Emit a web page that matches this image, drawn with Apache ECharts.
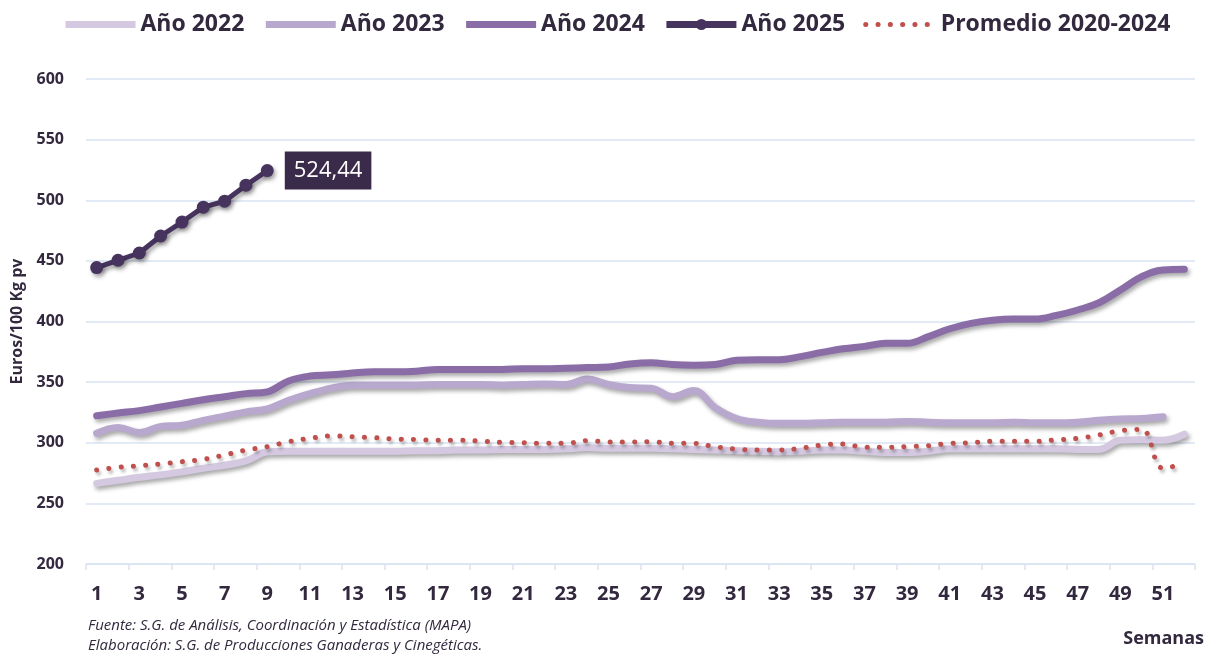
<!DOCTYPE html>
<html>
<head>
<meta charset="utf-8">
<script src="https://cdn.jsdelivr.net/npm/echarts@6/dist/echarts.min.js"></script>
<style>
  html, body { margin: 0; padding: 0; background: #fff; }
  #chart { width: 1208px; height: 660px; }
</style>
</head>
<body>
<div id="chart"></div>
<script>
const weeks = ["1","2","3","4","5","6","7","8","9","10","11","12","13","14","15","16","17","18","19","20",
  "21","22","23","24","25","26","27","28","29","30","31","32","33","34","35","36","37","38","39","40",
  "41","42","43","44","45","46","47","48","49","50","51","52"];

const y2022 = [266.5, 269, 271.5, 273.5, 276, 279, 281.5, 285, 292.5, 293, 293, 293, 293, 293, 293, 293.5,
  293.5, 294, 294, 294.5, 294.5, 294.5, 295, 296, 295.5, 295.5, 295.5, 295, 294.5, 294, 293.5, 293, 292.5,
  293, 294, 294, 293, 292, 292, 293, 295, 295, 295, 295, 295, 295, 294.5, 294.5, 302, 302.5, 302, 307];

const y2023 = [307.8, 312.5, 308.5, 313.5, 314.5, 318.5, 322, 325.5, 328, 335, 340.5, 345, 347.5, 347.5,
  347.5, 347.5, 348, 348, 348, 347.5, 348, 348.5, 348, 352.5, 348, 345.5, 345, 338, 343, 329, 320, 317, 316,
  316, 316.5, 317, 317, 317, 317.5, 317, 316.5, 316.5, 316.5, 317, 316.5, 316.5, 317, 318.5, 319.5, 320, 321.5];

const y2024 = [322.3, 324.5, 326.5, 329.5, 332.5, 335.5, 338, 340.5, 342, 351, 355, 356, 357.5, 358.5,
  358.5, 359, 360.5, 360.5, 360.5, 360.5, 361, 361, 361.5, 362, 362.5, 365, 366, 364.5, 364, 364.5, 368,
  368.5, 368.5, 371, 374.5, 377.5, 379.5, 382, 382, 387.5, 394, 398.5, 401, 402, 402, 405, 409.5, 415.5,
  426, 437, 442.5, 443];

const y2025 = [444.5, 450.5, 456.5, 470.5, 482, 494.3, 499.2, 512.4, 524.44];

const avg = [277.5, 279.7, 281, 282.5, 284.4, 286.3, 289.9, 294, 296.7, 300.9, 303.6, 305.6, 305, 304.2,
  303.1, 302.7, 302, 302, 301.4, 300.3, 300, 299.5, 299.5, 301.7, 300.6, 300.6, 300.8, 299.5, 299.5, 296.7,
  294.8, 294, 294, 295.4, 298.1, 299, 296.2, 296.2, 296.8, 297.6, 299.5, 300, 301.2, 301.2, 301.2, 302.3,
  303.6, 306.4, 310, 311, 279, 283];

const lastLabel = "524,44";

const textColor = "#33293f";
const gridColor = "#d9e4f2";
const font = "Open Sans";

const shadow = {
  shadowColor: "rgba(0, 0, 0, 0.35)",
  shadowBlur: 4,
  shadowOffsetX: 2,
  shadowOffsetY: 3
};

// only the last point of 2025 gets the value box
const data2025 = y2025.map((v, i) => {
  if (i !== y2025.length - 1) return v;
  return {
    value: v,
    label: {
      show: true,
      position: "right",
      distance: 11,
      formatter: lastLabel,
      backgroundColor: "#3b2b4b",
      color: "#ffffff",
      fontSize: 22,
      fontFamily: font,
      padding: [8, 9, 8, 9]
    }
  };
});

const hideDot = { opacity: 0 };

const chart = echarts.init(document.getElementById("chart"));
const option = {
  animation: false,
  textStyle: { fontFamily: font },
  legend: {
    top: 8,
    left: 57,
    itemWidth: 70,
    itemHeight: 14,
    itemGap: 18,
    lineStyle: { width: "inherit", cap: "butt" },
    textStyle: {
      fontSize: 23,
      fontWeight: "bold",
      color: textColor,
      fontFamily: font
    },
    data: [
      { name: "Año 2022", itemStyle: hideDot },
      { name: "Año 2023", itemStyle: hideDot },
      { name: "Año 2024", itemStyle: hideDot },
      { name: "Año 2025", lineStyle: { width: 7 } },
      { name: "Promedio 2020-2024", itemStyle: hideDot, lineStyle: { cap: "round", width: 5 } }
    ]
  },
  grid: {
    left: 86,
    right: 13,
    top: 79,
    bottom: 96
  },
  xAxis: {
    type: "category",
    data: weeks,
    boundaryGap: true,
    axisLine: { lineStyle: { color: gridColor, width: 1.5 } },
    axisTick: {
      show: true,
      length: 6,
      lineStyle: { color: gridColor, width: 1.5 }
    },
    axisLabel: {
      interval: 1,
      margin: 20,
      fontSize: 20,
      fontWeight: "bold",
      color: textColor,
      fontFamily: font
    },
    splitLine: { show: false }
  },
  yAxis: {
    type: "value",
    min: 200,
    max: 600,
    interval: 50,
    name: "Euros/100 Kg pv",
    nameLocation: "middle",
    nameGap: 60,
    nameTextStyle: {
      fontSize: 16,
      fontWeight: "bold",
      color: textColor,
      fontFamily: font
    },
    axisLine: { show: false },
    axisTick: { show: false },
    axisLabel: {
      margin: 22,
      fontSize: 16,
      fontWeight: "bold",
      color: textColor,
      fontFamily: font
    },
    splitLine: { lineStyle: { color: gridColor, width: 1.5 } }
  },
  series: [
    {
      name: "Año 2022",
      type: "line",
      data: y2022,
      smooth: 0.4,
      showSymbol: false,
      symbol: "none",
      itemStyle: { color: "#d5c9e1" },
      lineStyle: Object.assign({ color: "#d5c9e1", width: 7, cap: "round" }, shadow),
      z: 2
    },
    {
      name: "Año 2023",
      type: "line",
      data: y2023,
      smooth: 0.4,
      showSymbol: false,
      symbol: "none",
      itemStyle: { color: "#b9a8cd" },
      lineStyle: Object.assign({ color: "#b9a8cd", width: 7, cap: "round" }, shadow),
      z: 3
    },
    {
      name: "Año 2024",
      type: "line",
      data: y2024,
      smooth: 0.4,
      showSymbol: false,
      symbol: "none",
      itemStyle: { color: "#8a6ca7" },
      lineStyle: Object.assign({ color: "#8a6ca7", width: 7, cap: "round" }, shadow),
      z: 4
    },
    {
      name: "Promedio 2020-2024",
      type: "line",
      data: avg,
      smooth: 0.4,
      showSymbol: false,
      symbol: "none",
      itemStyle: { color: "#c0504d" },
      lineStyle: Object.assign({
        color: "#c0504d",
        width: 5,
        type: [0.1, 12.2],
        cap: "round"
      }, shadow, { shadowColor: "rgba(0,0,0,0.25)", shadowBlur: 3 }),
      z: 5
    },
    {
      name: "Año 2025",
      type: "line",
      data: data2025,
      smooth: false,
      symbol: "circle",
      symbolSize: 13,
      itemStyle: Object.assign({ color: "#47345e" }, shadow),
      lineStyle: Object.assign({ color: "#47345e", width: 5 }, shadow),
      z: 6
    }
  ],
  graphic: [
    {
      type: "text",
      left: 88,
      top: 618,
      style: {
        text: "Fuente: S.G. de Análisis, Coordinación y Estadística (MAPA)",
        font: "italic 15px 'Open Sans'",
        fill: textColor
      }
    },
    {
      type: "text",
      left: 88,
      top: 638,
      style: {
        text: "Elaboración: S.G. de Producciones Ganaderas y Cinegéticas.",
        font: "italic 15px 'Open Sans'",
        fill: textColor
      }
    },
    {
      type: "text",
      right: 4,
      top: 630,
      style: {
        text: "Semanas",
        font: "bold 18px 'Open Sans'",
        fill: textColor
      }
    }
  ]
};
chart.setOption(option);
</script>
</body>
</html>
